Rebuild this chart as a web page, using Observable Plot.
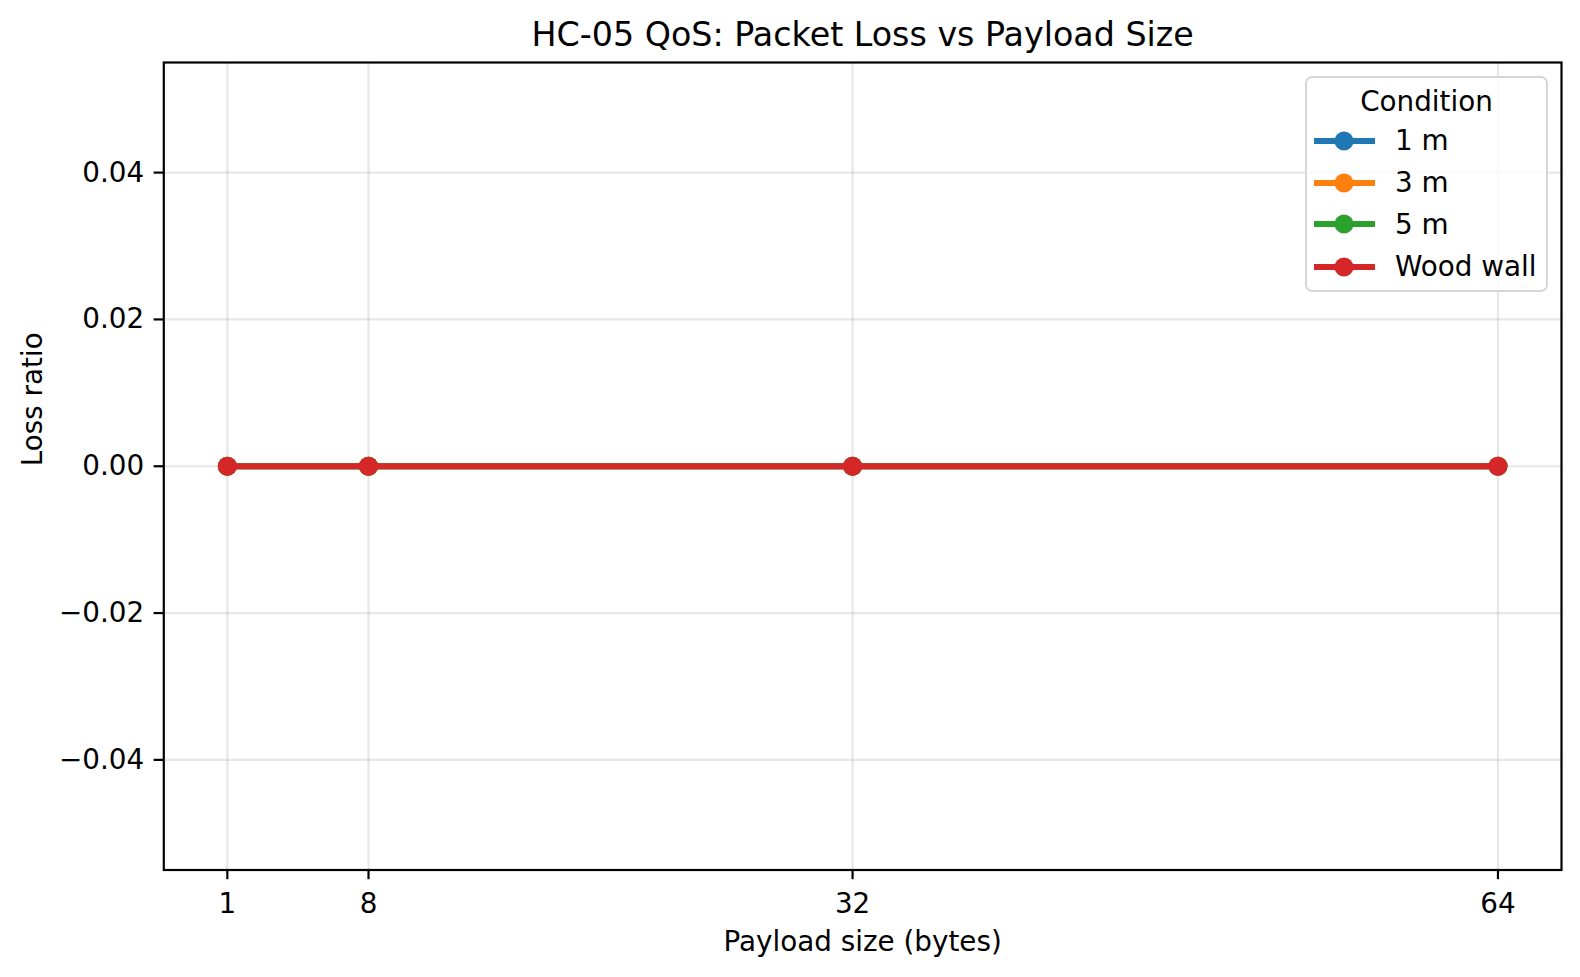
<!DOCTYPE html>
<html>
<head>
<meta charset="utf-8">
<script src="https://cdn.jsdelivr.net/npm/d3@7"></script>
<script src="https://cdn.jsdelivr.net/npm/@observablehq/plot@0.6"></script>
<style>
  html, body { margin: 0; padding: 0; background: white; overflow: hidden; }
  #wrap { position: relative; width: 1580px; height: 977px; font-family: "DejaVu Sans", sans-serif; }
  #wrap > svg { max-width: none !important; display: block; }
  #legend { position: absolute; left: 1305px; top: 76px; width: 243px; height: 216px; box-sizing: border-box;
    border: 2px solid #d6d6d6; border-radius: 7px; background: rgba(255,255,255,0.8); }
  #legend .title { position: absolute; left: 0; right: 0; top: 4px; height: 40px; line-height: 40px; text-align: center; font-size: 27.8px; color: #000; }
  #legend .row { position: absolute; left: 0; height: 40px; display: flex; align-items: center; font-size: 27.8px; color: #000; }
  #legend .row svg { margin-left: 7px; margin-right: 20px; display: block; }
</style>
</head>
<body>
<div id="wrap"></div>
<script>
const payloads = [1, 8, 32, 64];
const conditions = ["1 m", "3 m", "5 m", "Wood wall"];
const loss1m = [0, 0, 0, 0];
const loss3m = [0, 0, 0, 0];
const loss5m = [0, 0, 0, 0];
const lossWood = [0, 0, 0, 0];
const colors = ["#1f77b4", "#ff7f0e", "#2ca02c", "#d62728"];
const yTicks = [-0.04, -0.02, 0, 0.02, 0.04];
const titleText = "HC-05 QoS: Packet Loss vs Payload Size";
const xLabel = "Payload size (bytes)";
const yLabel = "Loss ratio";
const legendTitle = "Condition";

const seriesValues = [loss1m, loss3m, loss5m, lossWood];
const rows = conditions.flatMap((c, i) => payloads.map((p, j) => ({condition: c, payload: p, loss: seriesValues[i][j]})));

const fmtY = d => (d < 0 ? "\u2212" : "") + Math.abs(d).toFixed(2);

const seriesMarks = conditions.flatMap(c => {
  const data = rows.filter(r => r.condition === c);
  return [
    Plot.line(data, {x: "payload", y: "loss", stroke: "condition", strokeWidth: 5.8}),
    Plot.dot(data, {x: "payload", y: "loss", fill: "condition", r: 9.5, stroke: "none"})
  ];
});

const chart = Plot.plot({
  width: 1580,
  height: 977,
  marginLeft: 163.3,
  marginRight: 19,
  marginTop: 62,
  marginBottom: 107.5,
  style: {fontFamily: "DejaVu Sans, sans-serif", fontSize: "27.8px", background: "white", color: "black", maxWidth: "none"},
  x: {domain: [-2.15, 67.15], label: null},
  y: {domain: [-0.055, 0.055], label: null},
  color: {domain: conditions, range: colors},
  marks: [
    Plot.gridX(payloads, {stroke: "#b0b0b0", strokeOpacity: 0.3, strokeWidth: 2.2}),
    Plot.gridY(yTicks, {stroke: "#b0b0b0", strokeOpacity: 0.3, strokeWidth: 2.2}),
    ...seriesMarks,
    Plot.frame({stroke: "black", strokeWidth: 2.2}),
    Plot.axisX(payloads, {tickSize: 9.7, tickPadding: 14, tickFormat: d => String(d), fontSize: 27.8, label: null, strokeWidth: 2.2}),
    Plot.axisY(yTicks, {tickSize: 9.7, tickPadding: 10, tickFormat: fmtY, fontSize: 27.8, label: null, strokeWidth: 2.2}),
    Plot.text([titleText], {frameAnchor: "top", dy: -27, fontSize: 33.3, lineAnchor: "middle", fill: "black"}),
    Plot.text([xLabel], {frameAnchor: "bottom", dy: 72.5, fontSize: 27.8, lineAnchor: "middle", fill: "black"}),
    Plot.text([yLabel], {frameAnchor: "left", dx: -131, rotate: -90, fontSize: 27.8, lineAnchor: "middle", fill: "black"})
  ]
});

const wrap = document.getElementById("wrap");
wrap.appendChild(chart);

const legend = document.createElement("div");
legend.id = "legend";
const lt = document.createElement("div");
lt.className = "title";
lt.textContent = legendTitle;
legend.appendChild(lt);
const rowCenters = [64.7, 106.7, 148.3, 190.7];
conditions.forEach((c, i) => {
  const row = document.createElement("div");
  row.className = "row";
  row.style.top = (rowCenters[i] - 20 - 2) + "px";
  const ns = "http://www.w3.org/2000/svg";
  const s = document.createElementNS(ns, "svg");
  s.setAttribute("width", "61");
  s.setAttribute("height", "24");
  const ln = document.createElementNS(ns, "line");
  ln.setAttribute("x1", "0"); ln.setAttribute("x2", "61");
  ln.setAttribute("y1", "12"); ln.setAttribute("y2", "12");
  ln.setAttribute("stroke", colors[i]); ln.setAttribute("stroke-width", "5.8");
  const ci = document.createElementNS(ns, "circle");
  ci.setAttribute("cx", "30"); ci.setAttribute("cy", "12"); ci.setAttribute("r", "9.5");
  ci.setAttribute("fill", colors[i]);
  s.appendChild(ln); s.appendChild(ci);
  const tx = document.createElement("span");
  tx.textContent = c;
  row.appendChild(s); row.appendChild(tx);
  legend.appendChild(row);
});
wrap.appendChild(legend);
</script>
</body>
</html>
